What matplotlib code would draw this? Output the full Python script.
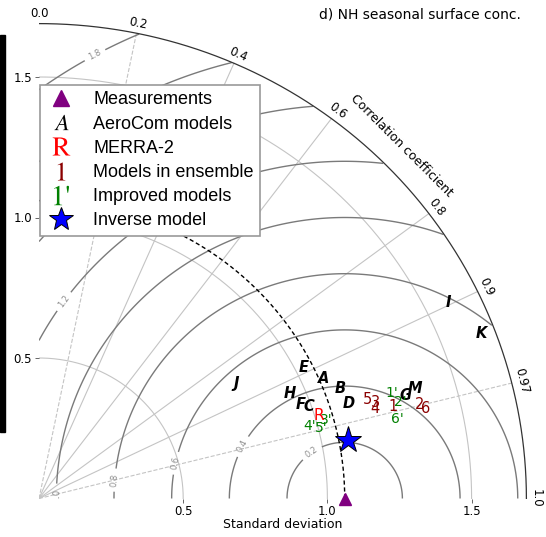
import numpy as np
import matplotlib
matplotlib.use("Agg")
import matplotlib.pyplot as plt
from matplotlib.lines import Line2D
from matplotlib.patches import Rectangle

plt.rcParams["mathtext.fontset"] = "stix"

# -----------------------------
# Data (std dev x, std dev y components)
# -----------------------------
ref_std = 1.06
inverse_pt = (1.071, 0.208)

aerocom_labels = ["A", "B", "C", "D", "E", "F", "G", "H", "I", "J", "K", "M"]
aerocom_x = [0.986, 1.046, 0.934, 1.075, 0.917, 0.908, 1.271, 0.870, 1.419, 0.685, 1.535, 1.304]
aerocom_y = [0.428, 0.392, 0.327, 0.339, 0.466, 0.333, 0.368, 0.374, 0.697, 0.410, 0.588, 0.392]

merra_x, merra_y = 0.969, 0.294

ens_labels = ["1", "2", "3", "4", "5", "6"]
ens_x = [1.229, 1.318, 1.167, 1.165, 1.140, 1.341]
ens_y = [0.329, 0.336, 0.343, 0.321, 0.351, 0.321]

imp_labels = ["1'", "2'", "3'", "4'", "5'", "6'"]
imp_x = [1.223, 1.252, 0.995, 0.940, 0.980, 1.242]
imp_y = [0.374, 0.342, 0.280, 0.258, 0.252, 0.282]

corr_ticks = [0.0, 0.2, 0.4, 0.6, 0.8, 0.9, 0.97, 1.0]
corr_lines = [0.2, 0.4, 0.6, 0.8, 0.9, 0.97]
std_circles = [0.5, 1.0, 1.5]
rms_levels = [0.2, 0.4, 0.6, 0.8, 1.0, 1.2, 1.4, 1.6, 1.8]
rmax = 1.69

# -----------------------------
# Figure
# -----------------------------
fig = plt.figure(figsize=(5.46, 5.37), dpi=100)
ax = fig.add_axes([39 / 546, (537 - 498.5) / 537, 288.4 * 1.75 / 546, 281 * 1.75 / 537])
ax.set_xlim(0, 1.75)
ax.set_ylim(0, 1.75)
for s in ax.spines.values():
    s.set_visible(False)

ax.set_xticks(std_circles)
ax.set_yticks(std_circles)
ax.set_xticklabels(["0.5", "1.0", "1.5"], fontsize=8.5)
ax.set_yticklabels(["0.5", "1.0", "1.5"], fontsize=8.5)
ax.tick_params(length=3, width=0.6, color="0.3", pad=2)

th = np.linspace(0, np.pi / 2, 300)

# RMS contours around the reference
xx, yy = np.meshgrid(np.linspace(0, 1.75, 400), np.linspace(0, 1.75, 400))
rms = np.sqrt((xx - ref_std) ** 2 + yy ** 2)
rms = np.ma.masked_where(np.sqrt(xx ** 2 + yy ** 2) > rmax, rms)
cs = ax.contour(xx, yy, rms, levels=rms_levels, colors="0.48", linewidths=1.0, zorder=1)
ax.clabel(cs, fontsize=6, fmt="%.1f", colors="0.55",
          manual=[(0.947, 0.162), (0.697, 0.19), (0.472, 0.126), (0.257, 0.066),
                  (0.055, 0.012), (0.08, 0.706), (0.35, 1.05), (0.3, 1.2), (0.194, 1.578)])

# std dev circles
for r in std_circles:
    ax.plot(r * np.cos(th), r * np.sin(th), color="#c4c4c4", lw=0.8, zorder=0.5)

# correlation lines
for c in corr_lines:
    a = np.arccos(c)
    ls = "--" if c in (0.2, 0.97) else "-"
    ax.plot([0, rmax * np.cos(a)], [0, rmax * np.sin(a)], color="#c4c4c4", lw=0.8,
            ls=ls, zorder=0.5)

# outer border and reference arc
ax.plot(rmax * np.cos(th), rmax * np.sin(th), color="0.2", lw=0.9, zorder=2)
ax.plot(ref_std * np.cos(th), ref_std * np.sin(th), color="black", lw=1.0,
        ls=(0, (3, 2)), zorder=2)

# correlation tick labels
for c in corr_ticks:
    a = np.arccos(c)
    ax.text(1.725 * np.cos(a), 1.725 * np.sin(a), "%g" % c if c not in (0.0, 1.0) else "%.1f" % c,
            rotation=np.degrees(a) - 90, ha="center", va="center", fontsize=8.5,
            clip_on=False, rotation_mode="anchor")
ax.text(1.777 * np.cos(np.pi / 4), 1.777 * np.sin(np.pi / 4), "Correlation coefficient",
        rotation=-45, ha="center", va="center", fontsize=9, clip_on=False,
        rotation_mode="anchor")

# points
for lab, x, y in zip(aerocom_labels, aerocom_x, aerocom_y):
    ax.text(x, y, lab, ha="center", va="center", fontsize=10.5, style="italic",
            weight="bold", color="black", zorder=5)
for lab, x, y in zip(ens_labels, ens_x, ens_y):
    ax.text(x, y, lab, ha="center", va="center", fontsize=10.5, color="#8b0000", zorder=5)
for lab, x, y in zip(imp_labels, imp_x, imp_y):
    ax.text(x, y, lab, ha="center", va="center", fontsize=10, color="#008000", zorder=5)
ax.text(merra_x, merra_y, "R", ha="center", va="center", fontsize=11, color="red", zorder=6)

ax.plot(inverse_pt[0], inverse_pt[1], marker="*", ms=20, color="#0000ff",
        mec="black", mew=0.7, ls="none", zorder=7)
ax.plot(ref_std, 0, marker="^", ms=8.5, color="#800080", ls="none", zorder=7, clip_on=False)

# legend
handles = [
    Line2D([], [], marker="^", color="#800080", ls="none", ms=11),
    Line2D([], [], marker=r"$A$", color="black", ls="none", ms=11, mew=0),
    Line2D([], [], marker=r"$\mathrm{R}$", color="red", ls="none", ms=13, mew=0),
    Line2D([], [], marker=r"$\mathrm{1}$", color="#8b0000", ls="none", ms=13, mew=0),
    Line2D([], [], marker=r"$\mathrm{1}\text{'}$", color="#008000", ls="none", ms=14, mew=0),
    Line2D([], [], marker="*", color="#0000ff", mec="black", mew=0.7, ls="none", ms=18),
]
names = ["Measurements", "AeroCom models", "MERRA-2", "Models in ensemble",
         "Improved models", "Inverse model"]
leg = fig.legend(handles, names, loc="upper left", bbox_to_anchor=(40 / 546, 1 - 85 / 537),
                 borderaxespad=0, prop={"family": "Liberation Sans", "size": 13},
                 fancybox=False, edgecolor="0.6", framealpha=1, labelspacing=0.4,
                 handletextpad=1.0, borderpad=0.35, handlelength=1.6)
leg.get_frame().set_linewidth(1.2)

fig.text(283 / 546, 1 - 524 / 537, "Standard deviation", ha="center", va="center", fontsize=9)
fig.text(521 / 546, 1 - 14 / 537, "d) NH seasonal surface conc.", ha="right", va="center",
         fontsize=10)

fig.patches.append(Rectangle((0, 1 - 432 / 537), 5 / 546, (432 - 35) / 537,
                             transform=fig.transFigure, color="black"))

fig.savefig("out.png", dpi=100)
